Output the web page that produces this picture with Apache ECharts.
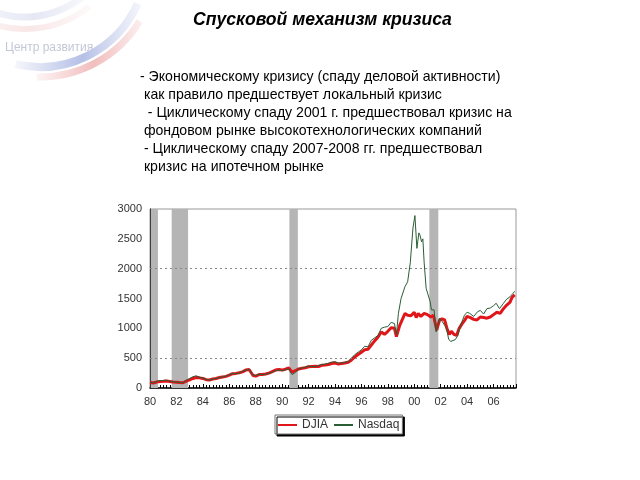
<!DOCTYPE html>
<html><head><meta charset="utf-8">
<script src="https://cdn.jsdelivr.net/npm/echarts@6/dist/echarts.min.js"></script>
<style>html,body{margin:0;padding:0;background:#fff}#c{width:640px;height:480px}</style>
</head><body><div id="c"></div>
<script>
var title = 'Спусковой механизм кризиса';
var bodyLines = [
  '- Экономическому кризису (спаду деловой активности)',
  ' как правило предшествует локальный кризис',
  '  - Циклическому спаду 2001 г. предшествовал кризис на',
  ' фондовом рынке высокотехнологических компаний',
  ' - Циклическому спаду 2007-2008 гг. предшествовал',
  ' кризис на ипотечном рынке'
];
var logoText = 'Центр развития';
var seriesNames = ['DJIA', 'Nasdaq'];
var recessions = [[1980.05, 1980.6], [1981.64, 1982.88], [1990.55, 1991.19], [2001.14, 2001.82]];
var yGridLines = [500, 2000];

var djia = [
[1980.0,95],[1980.25,85],[1980.5,100],[1980.75,110],[1981.0,112],[1981.25,118],[1981.5,110],[1981.75,100],
[1982.0,98],[1982.25,92],[1982.5,88],[1982.75,115],[1983.0,135],[1983.25,160],[1983.5,175],[1983.75,170],
[1984.0,160],[1984.25,140],[1984.5,135],[1984.75,150],[1985.0,160],[1985.25,175],[1985.5,185],[1985.75,195],
[1986.0,215],[1986.25,240],[1986.5,245],[1986.75,255],[1987.0,270],[1987.25,300],[1987.5,310],[1987.65,318],
[1987.8,210],[1988.0,200],[1988.25,225],[1988.5,225],[1988.75,235],[1989.0,250],[1989.25,275],[1989.5,300],
[1989.75,310],[1990.0,300],[1990.25,315],[1990.5,335],[1990.75,265],[1991.0,290],[1991.25,320],[1991.5,330],
[1991.75,340],[1992.0,355],[1992.25,360],[1992.5,365],[1992.75,360],[1993.0,380],[1993.25,385],[1993.5,395],
[1993.75,410],[1994.0,420],[1994.25,400],[1994.5,410],[1994.75,420],[1995.0,430],[1995.25,470],[1995.5,520],
[1995.75,560],[1996.0,600],[1996.25,640],[1996.5,650],[1996.75,720],[1997.0,790],[1997.25,850],[1997.5,940],
[1997.75,900],[1998.0,950],[1998.25,1010],[1998.5,1000],[1998.65,860],[1998.9,1050],[1999.1,1150],[1999.3,1250],
[1999.5,1220],[1999.75,1210],[2000.0,1270],[2000.15,1180],[2000.3,1250],[2000.5,1200],[2000.75,1250],[2001.0,1230],
[2001.25,1190],[2001.45,1220],[2001.7,970],[2001.9,1130],[2002.1,1160],[2002.3,1140],[2002.5,980],[2002.65,900],
[2002.8,950],[2003.0,900],[2003.2,880],[2003.4,1000],[2003.6,1070],[2003.8,1130],[2004.0,1200],[2004.25,1180],
[2004.5,1150],[2004.75,1140],[2005.0,1190],[2005.25,1180],[2005.5,1170],[2005.75,1190],[2006.0,1230],[2006.25,1270],
[2006.5,1250],[2006.75,1330],[2007.0,1390],[2007.25,1440],[2007.4,1520],[2007.6,1560]
];
var nasdaq = [
[1980.0,100],[1980.25,85],[1980.5,110],[1980.75,125],[1981.0,125],[1981.25,130],[1981.5,115],[1981.75,105],
[1982.0,100],[1982.25,92],[1982.5,88],[1982.75,130],[1983.0,160],[1983.25,190],[1983.5,205],[1983.75,180],
[1984.0,165],[1984.25,145],[1984.5,135],[1984.75,150],[1985.0,160],[1985.25,175],[1985.5,185],[1985.75,200],
[1986.0,220],[1986.25,245],[1986.5,240],[1986.75,250],[1987.0,280],[1987.25,300],[1987.5,310],[1987.65,320],
[1987.8,215],[1988.0,210],[1988.25,230],[1988.5,225],[1988.75,230],[1989.0,245],[1989.25,265],[1989.5,290],
[1989.75,300],[1990.0,290],[1990.25,305],[1990.5,320],[1990.75,225],[1991.0,260],[1991.25,320],[1991.5,335],
[1991.75,350],[1992.0,370],[1992.25,360],[1992.5,360],[1992.75,375],[1993.0,395],[1993.25,400],[1993.5,415],
[1993.75,435],[1994.0,440],[1994.25,420],[1994.5,420],[1994.75,430],[1995.0,445],[1995.25,500],[1995.5,560],
[1995.75,600],[1996.0,640],[1996.25,700],[1996.5,690],[1996.75,800],[1997.0,840],[1997.25,880],[1997.5,1000],
[1997.75,1020],[1998.0,1030],[1998.25,1100],[1998.5,1080],[1998.65,890],[1998.8,1250],[1999.0,1500],[1999.3,1700],
[1999.5,1780],[1999.7,2100],[1999.9,2680],[2000.05,2890],[2000.2,2340],[2000.35,2600],[2000.44,2560],[2000.55,2450],
[2000.65,2500],[2000.75,2100],[2000.9,1670],[2001.05,1560],[2001.2,1450],[2001.3,1310],[2001.5,1310],[2001.65,940],
[2001.9,1170],[2002.1,1120],[2002.3,1050],[2002.45,990],[2002.6,820],[2002.75,780],[2002.9,750],[2003.1,810],
[2003.3,880],[2003.5,1050],[2003.8,1220],[2004.0,1270],[2004.2,1250],[2004.5,1200],[2004.8,1280],[2005.0,1300],
[2005.25,1240],[2005.5,1330],[2005.75,1340],[2006.0,1380],[2006.2,1420],[2006.45,1330],[2006.75,1420],[2007.0,1490],
[2007.25,1530],[2007.45,1580],[2007.6,1620]
];

var chart = echarts.init(document.getElementById('c'), null, {renderer: 'canvas'});
var textEls = bodyLines.map(function (t, i) {
  return {type: 'text', left: 140, top: 70 + i * 18.1,
    style: {text: t, font: '14.1px "Liberation Sans", Arial, sans-serif', fill: '#000'}};
});
function fade(c0, c1, c2) {
  return {type: 'linear', x: 0, y: 0, x2: 1, y2: 0, colorStops: [
    {offset: 0, color: c0}, {offset: 0.55, color: c1}, {offset: 1, color: c2}]};
}
var option = {
  animation: false,
  backgroundColor: '#fff',
  graphic: [
    {type: 'arc', silent: true, shape: {cx: 25, cy: -75, r: 92, startAngle: 0.75, endAngle: 2.3},
      style: {stroke: fade('rgba(170,180,220,0.05)', 'rgba(170,180,220,0.3)', 'rgba(170,180,220,0.05)'), lineWidth: 7, fill: null}},
    {type: 'arc', silent: true, shape: {cx: 25, cy: -75, r: 104, startAngle: 0.9, endAngle: 2.3},
      style: {stroke: fade('rgba(230,160,160,0.05)', 'rgba(230,160,160,0.25)', 'rgba(230,160,160,0.05)'), lineWidth: 6, fill: null}},
    {type: 'arc', silent: true, shape: {cx: 40, cy: -40, r: 107, startAngle: 0.42, endAngle: 1.8},
      style: {stroke: fade('rgba(120,140,210,0.05)', 'rgba(120,140,210,0.55)', 'rgba(150,165,220,0.1)'), lineWidth: 8, fill: null}},
    {type: 'arc', silent: true, shape: {cx: 40, cy: -40, r: 117, startAngle: 0.55, endAngle: 1.6},
      style: {stroke: fade('rgba(225,110,110,0.05)', 'rgba(225,110,110,0.45)', 'rgba(225,110,110,0.1)'), lineWidth: 7, fill: null}},
    {type: 'text', left: 5, top: 42, style: {text: logoText, font: '12px "Liberation Sans", Arial, sans-serif', fill: '#c3c8d6'}},
    {type: 'text', left: 193, top: 11, style: {text: title, font: 'italic bold 17.6px "Liberation Sans", Arial, sans-serif', fill: '#000'}}
  ].concat(textEls),
  legend: {
    data: seriesNames,
    left: 275, top: 415, itemWidth: 19, itemHeight: 10, itemGap: 5,
    itemStyle: {opacity: 0},
    padding: [4, 3, 3, 2], backgroundColor: '#fff', borderColor: '#777', borderWidth: 1,
    shadowColor: '#000', shadowOffsetX: 2, shadowOffsetY: 2, shadowBlur: 0,
    textStyle: {fontFamily: '"Liberation Sans", Arial', fontSize: 12, color: '#333'}
  },
  grid: {left: 150, right: 124, top: 209, bottom: 92, show: true, borderColor: '#999', borderWidth: 1, backgroundColor: 'transparent'},
  xAxis: {
    type: 'value', min: 1980, max: 2007.7, interval: 2,
    axisLine: {lineStyle: {color: '#000', width: 1.5}},
    axisTick: {inside: true, length: 4, lineStyle: {color: '#000'}},
    minorTick: {show: true, splitNumber: 8, length: 3, lineStyle: {color: '#000'}},
    splitLine: {show: false},
    axisLabel: {showMaxLabel: false, color: '#333', fontSize: 11, fontFamily: '"Liberation Sans", Arial', margin: 8,
      formatter: function (v) { var y = Math.round(v) % 100; return (y < 10 ? '0' : '') + y; }}
  },
  yAxis: {
    type: 'value', min: 0, max: 3000, interval: 500,
    axisLine: {show: true, lineStyle: {color: '#000', width: 1}},
    axisTick: {show: false},
    splitLine: {show: false},
    axisLabel: {color: '#333', fontSize: 11, fontFamily: '"Liberation Sans", Arial', margin: 8,
      formatter: function (v) { return String(v); }}
  },
  series: [
    {type: 'line', name: '_rec', data: [], z: 1, silent: true,
      markArea: {silent: true, itemStyle: {color: '#b5b5b5', opacity: 1},
        data: recessions.map(function (r) { return [{xAxis: r[0]}, {xAxis: r[1]}]; })},
      markLine: {silent: true, symbol: 'none', label: {show: false},
        lineStyle: {color: '#888', type: [2, 3], width: 1},
        data: yGridLines.map(function (v) { return {yAxis: v}; })}
    },
    {type: 'line', name: seriesNames[0], data: djia, showSymbol: false, symbol: 'none', z: 3,
      lineStyle: {color: '#e0161b', width: 3}, itemStyle: {color: '#e0161b'}},
    {type: 'line', name: seriesNames[1], data: nasdaq, showSymbol: false, symbol: 'none', z: 4,
      lineStyle: {color: '#2a5e34', width: 1}, itemStyle: {color: '#3a8a48'}}
  ]
};
chart.setOption(option);
</script></body></html>
